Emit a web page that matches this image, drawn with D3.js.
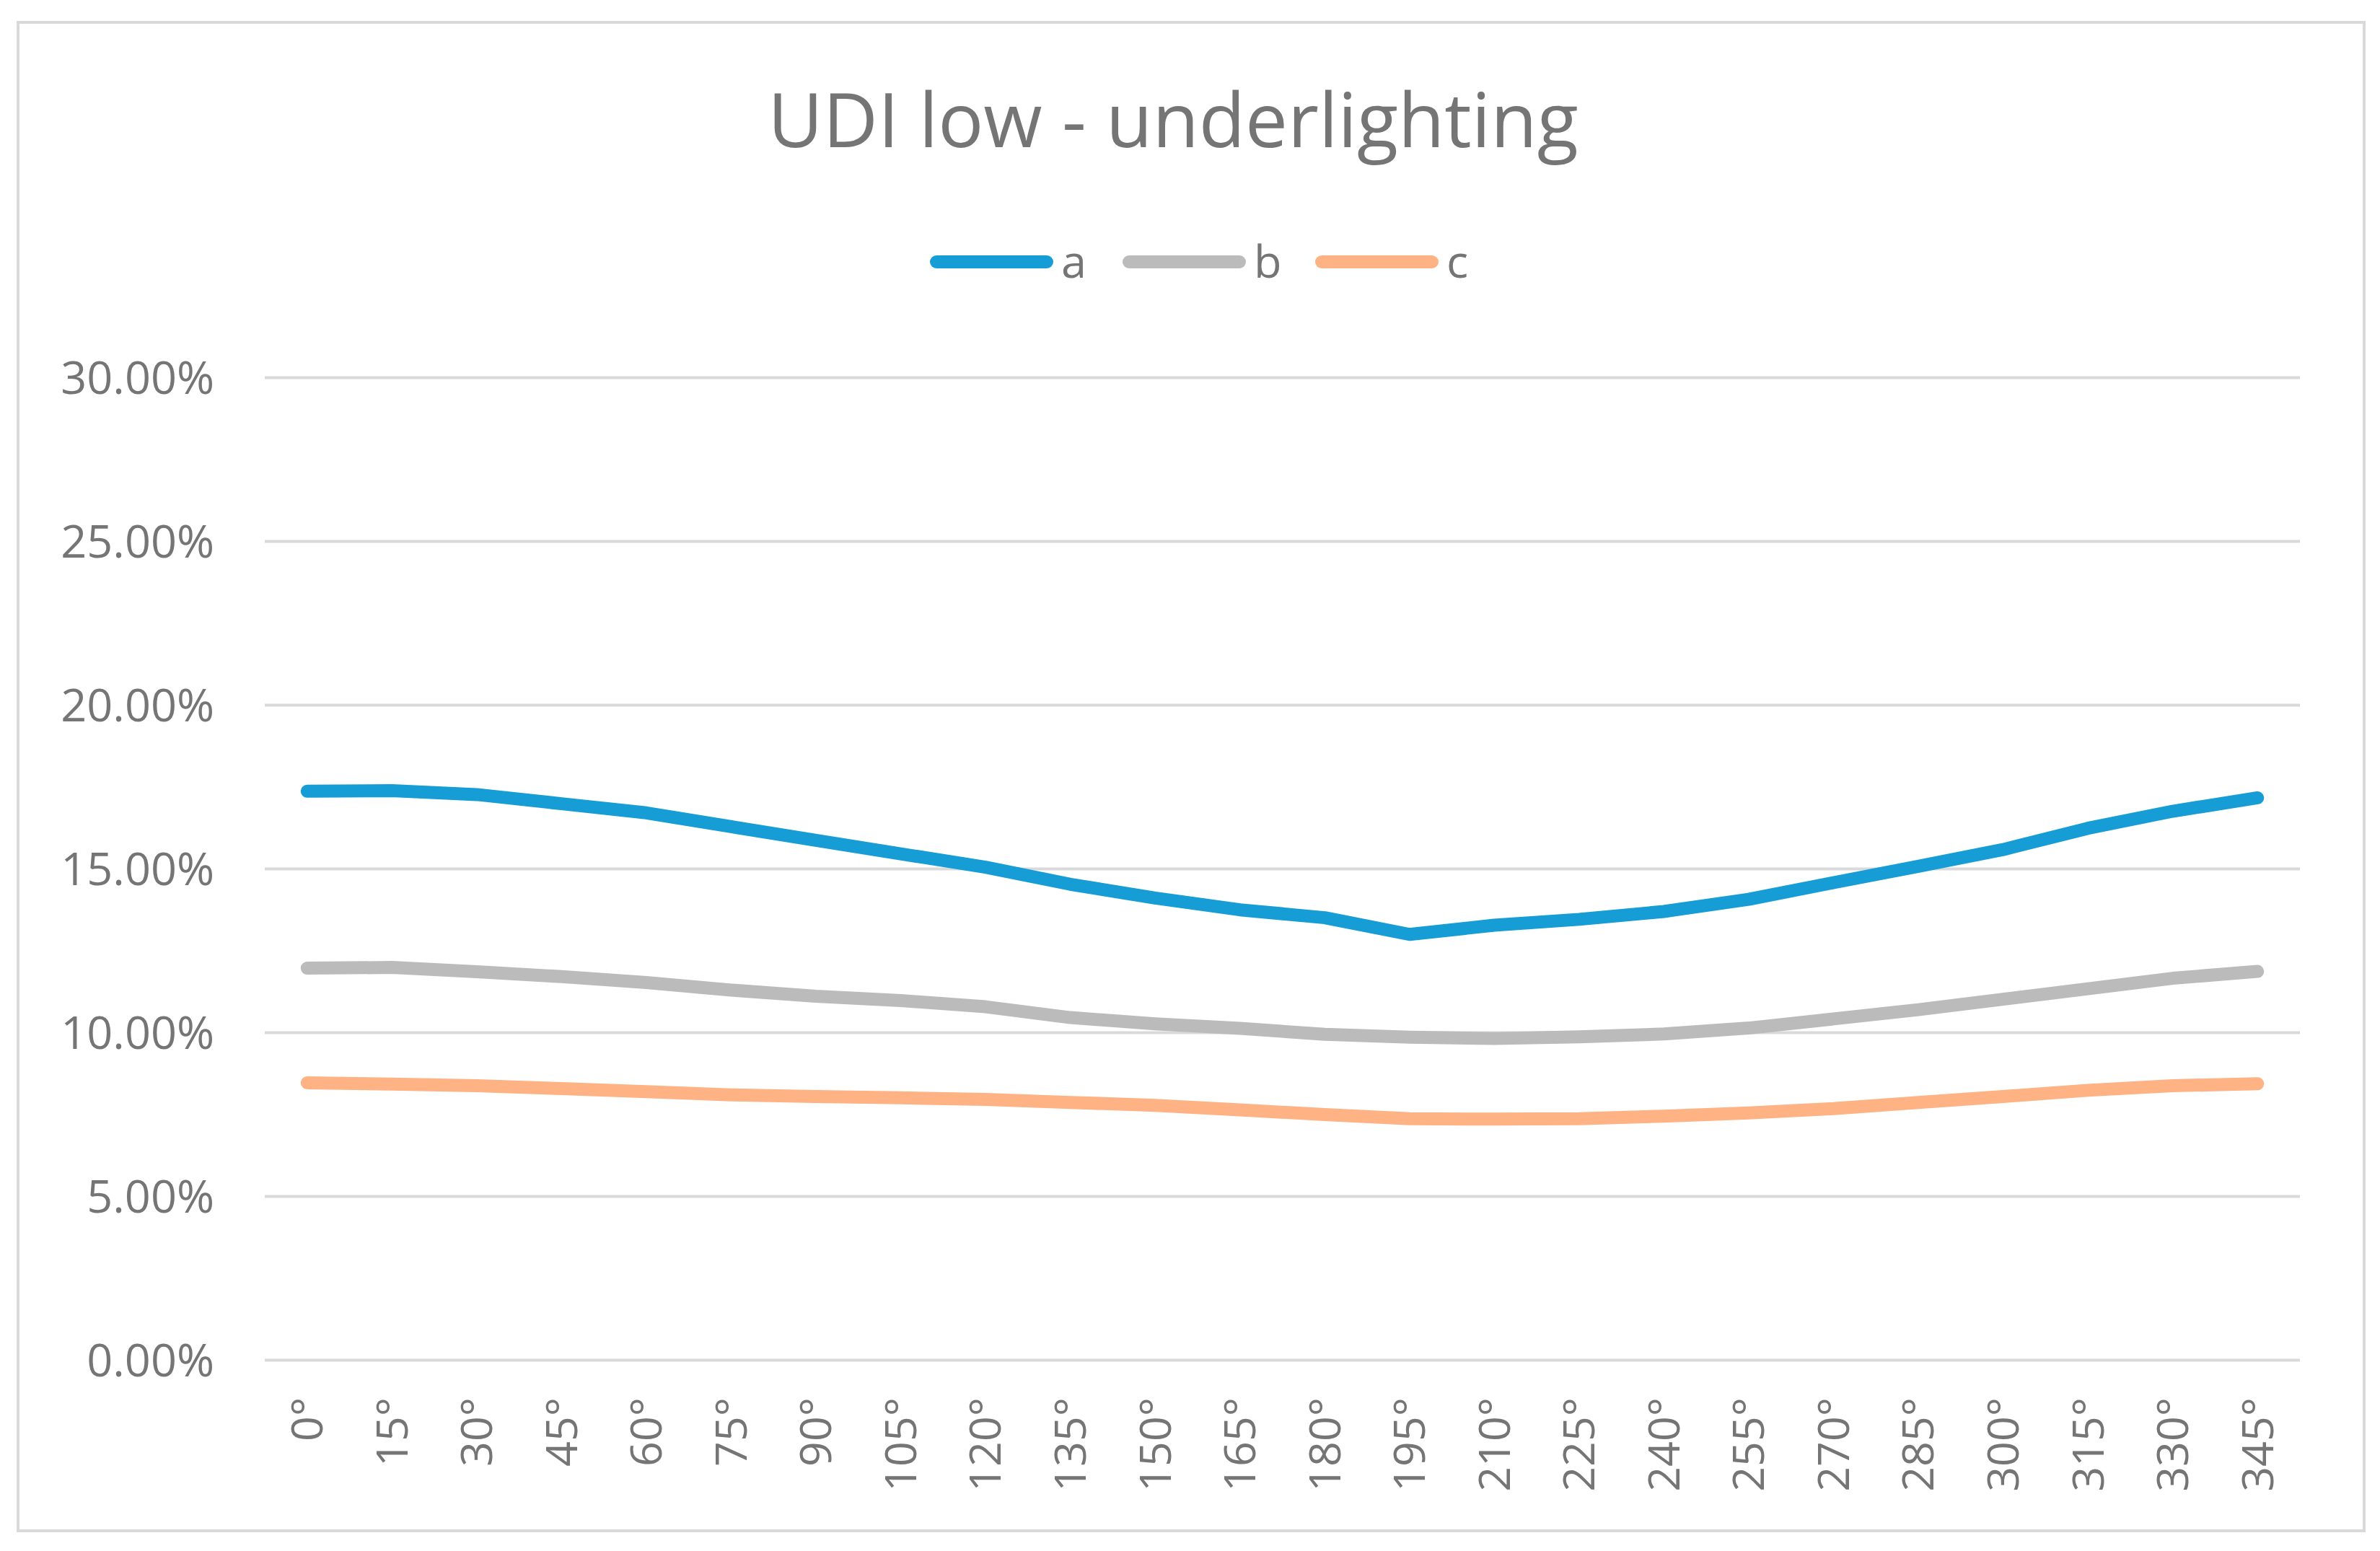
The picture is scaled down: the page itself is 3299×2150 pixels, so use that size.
<!DOCTYPE html>
<html>
<head>
<meta charset="utf-8">
<script src="https://cdn.jsdelivr.net/npm/d3@7"></script>
<style>
  html, body { margin: 0; padding: 0; background: #fff; }
  svg { display: block; }
  text { font-family: "Open Sans", "Noto Sans", sans-serif; fill: #757575; }
</style>
</head>
<body>
<svg id="chart" width="3299" height="2150"></svg>
<script>
// categories (orientation, degrees)
var angles = ['0°','15°','30°','45°','60°','75°','90°','105°','120°','135°','150°','165°',
              '180°','195°','210°','225°','240°','255°','270°','285°','300°','315°','330°','345°'];

// series values, in percent
var seriesA = [17.36, 17.38, 17.26, 16.98, 16.70, 16.28, 15.86, 15.45, 15.04, 14.52, 14.10, 13.74,
               13.50, 12.99, 13.27, 13.45, 13.69, 14.06, 14.57, 15.07, 15.58, 16.23, 16.75, 17.16];
var seriesB = [11.96, 11.98, 11.85, 11.70, 11.52, 11.29, 11.10, 10.97, 10.78, 10.45, 10.26, 10.12,
               9.94, 9.85, 9.81, 9.86, 9.95, 10.13, 10.41, 10.69, 11.01, 11.33, 11.65, 11.86];
var seriesC = [8.46, 8.42, 8.37, 8.28, 8.19, 8.09, 8.04, 8.00, 7.95, 7.86, 7.77, 7.63,
               7.49, 7.36, 7.35, 7.36, 7.44, 7.54, 7.67, 7.86, 8.04, 8.23, 8.37, 8.43];

var seriesNames = ['a', 'b', 'c'];
var seriesColors = ['#179dd6', '#bcbbbc', '#ffb283'];

var yTicks = [0, 5, 10, 15, 20, 25, 30];
var chartTitle = 'UDI low - underlighting';

var svg = d3.select('#chart');
var margin = { top: 523, right: 111, bottom: 265, left: 367 };
var width = 3299;
var height = 2150;
var innerWidth = width - margin.left - margin.right;
var innerHeight = height - margin.top - margin.bottom;

// outer chart border
svg.append('rect')
  .attr('x', 25).attr('y', 31)
  .attr('width', 3252).attr('height', 2091)
  .attr('fill', '#fff')
  .attr('stroke', '#d9d9d9')
  .attr('stroke-width', 4);

// title
svg.append('text')
  .attr('x', 1626)
  .attr('y', 204)
  .attr('text-anchor', 'middle')
  .style('font-size', '105px')
  .text(chartTitle);

var x = d3.scaleBand()
  .domain(angles)
  .range([0, innerWidth]);

var y = d3.scaleLinear()
  .domain([0, 30])
  .range([innerHeight, 0]);

var g = svg.append('g')
  .attr('transform', `translate(${margin.left},${margin.top})`);

// gridlines + y labels
var yAxis = g.append('g')
  .call(d3.axisLeft(y)
    .tickValues(yTicks)
    .tickSize(-innerWidth)
    .tickPadding(70)
    .tickFormat(d => d.toFixed(2) + '%'));
yAxis.select('.domain').remove();
yAxis.selectAll('line')
  .attr('stroke', '#d9d9d9')
  .attr('stroke-width', 4);
yAxis.selectAll('text')
  .attr('fill', '#757575')
  .style('font-size', '63px')
  .attr('dy', '0.35em');

// x labels (rotated)
var xAxis = g.append('g')
  .attr('transform', `translate(0,${innerHeight})`)
  .call(d3.axisBottom(x).tickSize(0));
xAxis.select('.domain').remove();
xAxis.selectAll('text')
  .attr('fill', '#757575')
  .style('font-size', '61px')
  .attr('text-anchor', 'end')
  .attr('transform', 'rotate(-90)')
  .attr('x', -52)
  .attr('y', 0)
  .attr('dy', '0.35em');

// lines
var line = d3.line()
  .x((d, i) => x(angles[i]) + x.bandwidth() / 2)
  .y(d => y(d));

var allSeries = [seriesA, seriesB, seriesC];
g.selectAll('.series')
  .data(allSeries)
  .enter()
  .append('path')
  .attr('class', 'series')
  .attr('d', line)
  .attr('fill', 'none')
  .attr('stroke', (d, i) => seriesColors[i])
  .attr('stroke-width', 18)
  .attr('stroke-linecap', 'round')
  .attr('stroke-linejoin', 'round');

// legend
var legendX = 1289;
var legendY = 363;
var legend = svg.append('g')
  .attr('transform', `translate(${legendX},${legendY})`);
var items = legend.selectAll('g')
  .data(seriesNames)
  .enter()
  .append('g')
  .attr('transform', (d, i) => `translate(${i * 267},0)`);
items.append('line')
  .attr('x1', 9).attr('x2', 162)
  .attr('y1', 0).attr('y2', 0)
  .attr('stroke', (d, i) => seriesColors[i])
  .attr('stroke-width', 18)
  .attr('stroke-linecap', 'round');
items.append('text')
  .attr('x', 182)
  .attr('y', 0)
  .attr('dy', '0.35em')
  .style('font-size', '63px')
  .text(d => d);
</script>
</body>
</html>
